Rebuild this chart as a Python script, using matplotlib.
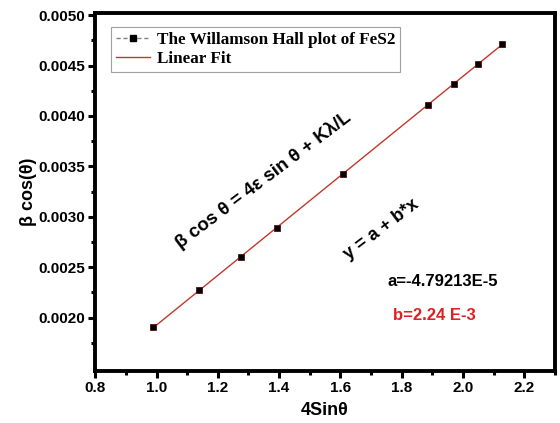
import numpy as np
import matplotlib
matplotlib.use("Agg")
import matplotlib.pyplot as plt
from matplotlib.lines import Line2D

# data
four_sin = np.array([0.99, 1.138, 1.276, 1.394, 1.609, 1.887, 1.969, 2.049, 2.127])
beta_cos = np.array([0.00191, 0.00227, 0.00260, 0.00289, 0.00342, 0.00411, 0.00432, 0.00452, 0.00471])
series_label = "The Willamson Hall plot of FeS2"
fit_label = "Linear Fit"
x_ticks = [0.8, 1.0, 1.2, 1.4, 1.6, 1.8, 2.0, 2.2]
y_ticks = [0.0020, 0.0025, 0.0030, 0.0035, 0.0040, 0.0045, 0.0050]

plt.rcParams['font.family'] = ['Liberation Sans', 'DejaVu Sans']
plt.rcParams['font.weight'] = 'bold'

fig = plt.figure(figsize=(5.6, 4.23), dpi=100)
ax = fig.add_axes([0.170, 0.123, 0.821, 0.846])

# linear fit
b, a = np.polyfit(four_sin, beta_cos, 1)
xf = np.array([four_sin[0], four_sin[-1]])
ax.plot(xf, a + b * xf, color='#c0392b', lw=1.0, zorder=2)
ax.plot(four_sin, beta_cos, ls='none', marker='s', ms=4.5, mfc='black',
        mec='#5a0a0a', mew=0.6, zorder=3)

ax.set_xlim(0.8, 2.3)
ax.set_ylim(0.00147, 0.00502)
ax.set_xticks(x_ticks)
ax.set_yticks(y_ticks)
ax.set_xticks(np.arange(0.9, 2.31, 0.2), minor=True)
ax.set_yticks(np.arange(0.00175, 0.0050, 0.0005), minor=True)
ax.set_xticklabels([f"{v:.1f}" for v in x_ticks])
ax.set_yticklabels([f"{v:.4f}" for v in y_ticks])
ax.tick_params(which='major', direction='out', length=5, width=2.2,
               labelsize=11, pad=2)
ax.tick_params(which='minor', direction='out', length=3, width=2.2)
for s in ax.spines.values():
    s.set_linewidth(2.8)

ax.set_xlabel("4Sinθ", fontsize=13, fontweight='bold', labelpad=5)
ax.set_ylabel("β cos(θ)", fontsize=13, fontweight='bold', labelpad=1)

handles = [
    Line2D([], [], color='gray', ls='--', lw=1.0, marker='s', ms=4,
           mfc='black', mec='black', dashes=(3, 2)),
    Line2D([], [], color='#c0392b', lw=1.0),
]
leg = ax.legend(handles, [series_label, fit_label], loc='upper left',
                bbox_to_anchor=(0.015, 0.985), frameon=True, fancybox=False,
                edgecolor='#888888', handlelength=2.0, handletextpad=0.4,
                borderpad=0.3, labelspacing=0.15,
                prop={'family': ['Liberation Serif'], 'weight': 'bold', 'size': 12.3})
leg.get_frame().set_linewidth(0.8)

def fx(px):
    return px / 560

def fy(py):
    return 1 - py / 423

fig.text(fx(263), fy(180), "β cos θ = 4ε sin θ + Kλ/L", rotation=37,
         ha='center', va='center', fontsize=13.5, fontweight='bold')
fig.text(fx(381), fy(229), "y = a + b*x", rotation=37,
         ha='center', va='center', fontsize=13, fontweight='bold')
fig.text(fx(443), fy(282), "a=-4.79213E-5", ha='center', va='center',
         fontsize=12, fontweight='bold', color='black')
fig.text(fx(434), fy(315), "b=2.24 E-3", ha='center', va='center',
         fontsize=12, fontweight='bold', color='#e02020')

fig.savefig("out.png", dpi=100)
